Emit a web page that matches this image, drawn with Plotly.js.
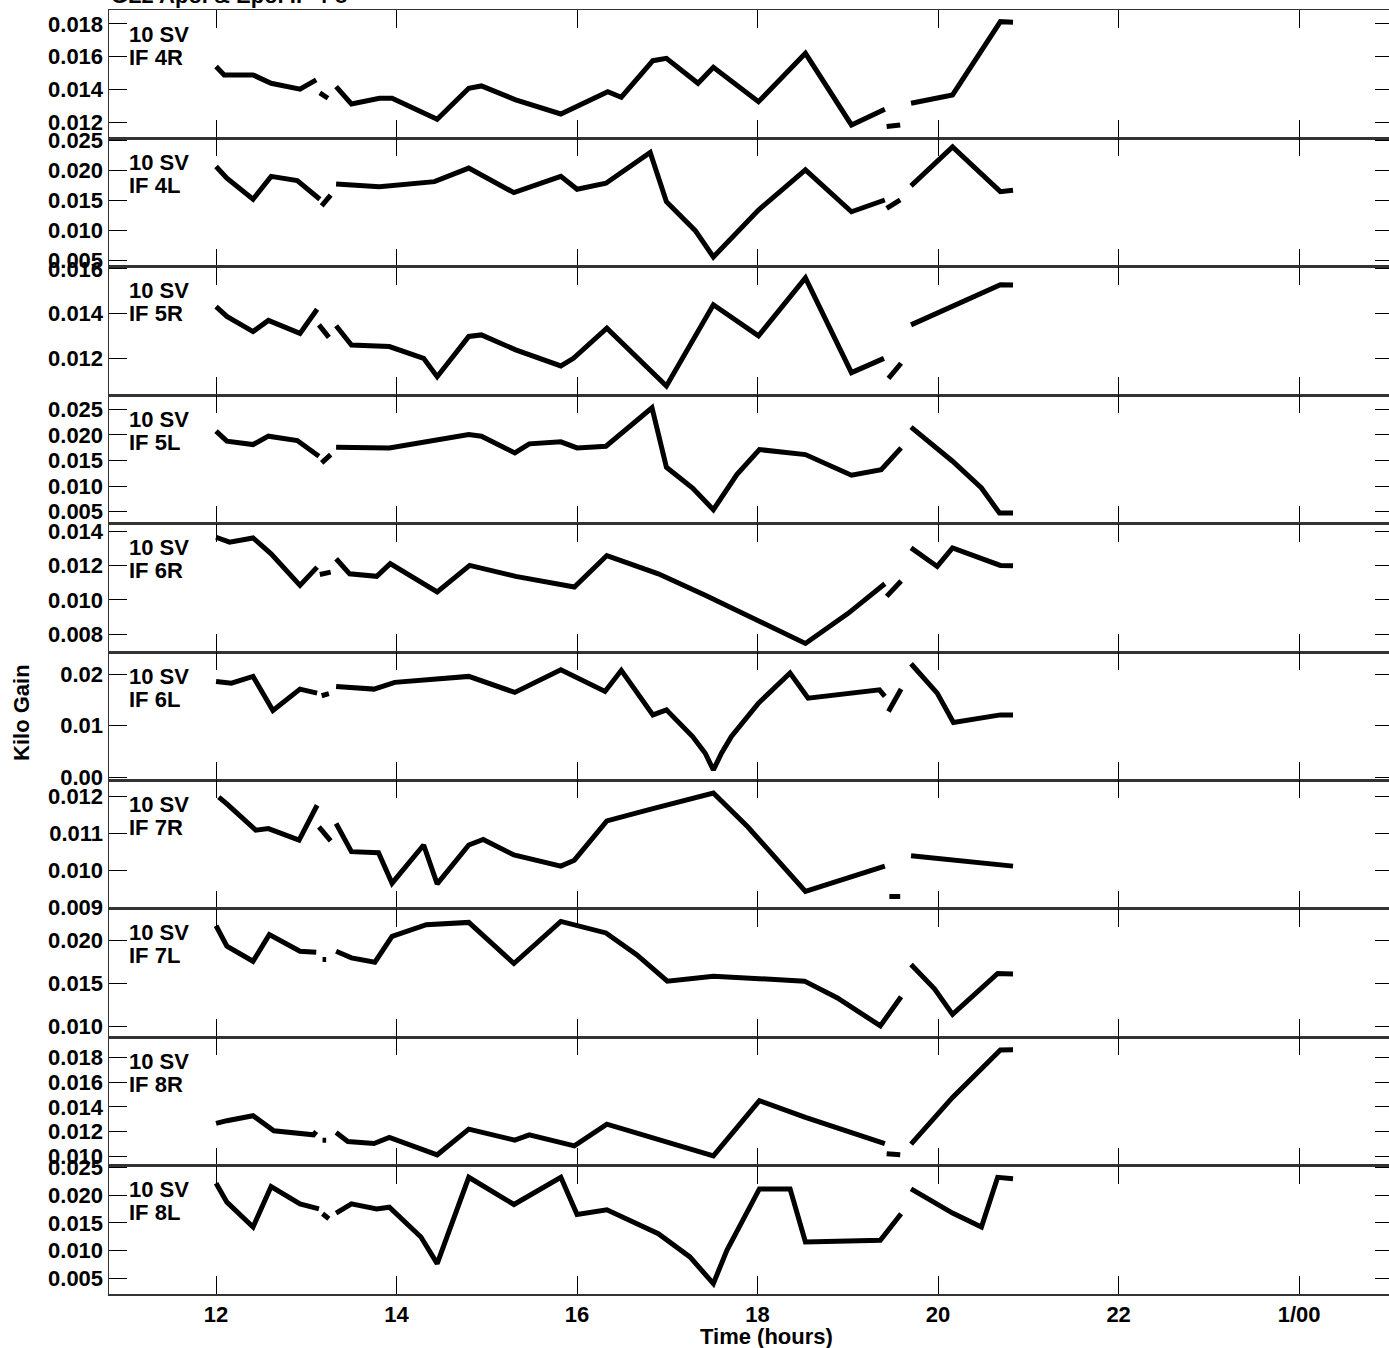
<!DOCTYPE html>
<html><head><meta charset="utf-8">
<script src="https://cdn.plot.ly/plotly-3.0.1.min.js"></script>
<style>html,body{margin:0;padding:0;overflow:hidden;background:#fff}#chart{width:1400px;height:1348px}</style>
</head><body><div id="chart"></div>
<script>
const plotTitle = 'GL2 Apol & Epol IF 4-8';
const sourceName = '10 SV';
const panelNames = ['IF 4R','IF 4L','IF 5R','IF 5L','IF 6R','IF 6L','IF 7R','IF 7L','IF 8R','IF 8L'];
const timeTickVals = [12,14,16,18,20,22,24];
const timeTickText = ['12','14','16','18','20','22','1/00'];

const t4R = [12.0,12.09,12.41,12.61,12.93,13.11,13.13,13.15,13.24,13.28,13.33,13.50,13.81,13.95,14.45,14.80,14.94,15.32,15.82,16.34,16.49,16.84,16.99,17.34,17.51,18.01,18.53,19.04,19.41,19.42,19.43,19.58,19.64,19.70,20.16,20.69,20.83];
const g4R = [0.0154,0.01489,0.01489,0.01438,0.01402,0.01459,null,0.0138,0.01347,null,0.01418,0.01312,0.01347,0.01347,0.01219,0.01408,0.01422,0.01337,0.01251,0.01387,0.01353,0.01576,0.0159,0.01438,0.01536,0.01326,0.01621,0.01184,0.0128,null,0.01174,0.01184,null,0.01316,0.01367,0.01814,0.0181];

const t4L = [12.0,12.12,12.41,12.61,12.90,13.15,13.16,13.17,13.27,13.30,13.33,13.81,14.42,14.80,15.30,15.82,16.0,16.32,16.81,16.99,17.31,17.51,18.01,18.53,19.04,19.41,19.42,19.43,19.58,19.64,19.70,20.16,20.69,20.83];
const g4L = [0.02063,0.0187,0.0152,0.019,0.0183,0.0152,null,0.0141,0.0159,null,0.01775,0.0173,0.01813,0.02037,0.0163,0.019,0.01687,0.01787,0.02297,0.0148,0.0100,0.00563,0.01342,0.02008,0.01313,0.01508,null,0.0137,0.0151,null,0.01742,0.02387,0.01647,0.0167];

const t5R = [12.0,12.12,12.41,12.58,12.93,13.12,13.13,13.14,13.25,13.29,13.33,13.50,13.92,14.30,14.45,14.80,14.94,15.32,15.82,15.96,16.33,16.99,17.51,18.01,18.53,19.04,19.40,19.42,19.45,19.59,19.64,19.70,20.69,20.83];
const g5R = [0.01431,0.01387,0.01319,0.01369,0.01311,0.01419,null,0.01349,0.01293,null,0.01345,0.01259,0.01252,0.01199,0.01117,0.01297,0.01304,0.01237,0.01165,0.01199,0.01334,0.01075,0.01439,0.0130,0.01559,0.01135,0.01199,null,0.01109,0.01177,null,0.01349,0.01529,0.01527];

const t5L = [12.0,12.12,12.41,12.58,12.90,13.14,13.15,13.17,13.27,13.30,13.33,13.92,14.80,14.94,15.31,15.47,15.82,16.0,16.32,16.83,16.99,17.28,17.51,17.77,18.02,18.53,19.04,19.37,19.59,19.64,19.70,20.16,20.48,20.68,20.83];
const g5L = [0.02073,0.01877,0.0181,0.01974,0.01888,0.01582,null,0.01451,0.01614,null,0.01759,0.01745,0.02006,0.01974,0.01647,0.01824,0.01863,0.01745,0.01778,0.02529,0.01367,0.00961,0.00536,0.01222,0.01712,0.01614,0.0121,0.0132,0.01745,null,0.02151,0.01484,0.00961,0.00471,0.0047];

const t6R = [12.0,12.15,12.41,12.61,12.93,13.12,13.13,13.15,13.27,13.30,13.33,13.48,13.78,13.93,14.45,14.81,15.32,15.97,16.33,16.90,17.42,18.01,18.53,19.00,19.41,19.42,19.43,19.59,19.64,19.70,19.99,20.16,20.69,20.83];
const g6R = [0.01367,0.01338,0.01363,0.0127,0.01085,0.01192,null,0.01149,0.01163,null,0.01241,0.01153,0.01138,0.01212,0.01047,0.01202,0.01138,0.01076,0.0126,0.01153,0.01027,0.00881,0.00745,0.0092,0.01095,null,0.01021,0.01111,null,0.01305,0.01196,0.01305,0.01202,0.012];

const t6L = [12.0,12.17,12.41,12.63,12.93,13.12,13.14,13.17,13.25,13.29,13.33,13.75,13.98,14.80,15.31,15.82,16.31,16.49,16.84,16.99,17.28,17.42,17.51,17.60,17.71,18.01,18.36,18.56,19.35,19.41,19.43,19.45,19.59,19.64,19.70,19.99,20.17,20.69,20.83];
const g6L = [0.01858,0.01825,0.01955,0.01295,0.01709,0.01631,null,0.0158,0.0162,null,0.01761,0.01709,0.01839,0.01955,0.01645,0.02083,0.01664,0.02072,0.0121,0.01307,0.00791,0.00467,0.00143,0.00467,0.00791,0.01437,0.0202,0.01534,0.01695,0.01567,null,0.01276,0.01709,null,0.0220,0.01631,0.01062,0.0121,0.0121];

const t7R = [12.03,12.12,12.44,12.58,12.92,13.12,13.13,13.14,13.27,13.30,13.33,13.50,13.80,13.95,14.30,14.45,14.80,14.96,15.30,15.82,15.97,16.33,16.84,17.51,17.89,18.24,18.53,19.41,19.43,19.46,19.58,19.64,19.70,20.83];
const g7R = [0.01198,0.0118,0.01109,0.01113,0.01082,0.01176,null,0.01118,0.0108,null,0.01127,0.01051,0.01048,0.00966,0.01069,0.00964,0.01069,0.01084,0.01042,0.01012,0.01028,0.01134,0.01167,0.01209,0.01118,0.01024,0.00944,0.01012,null,0.0093,0.0093,null,0.0104,0.01012];

const t7L = [12.0,12.12,12.41,12.59,12.93,13.11,13.15,13.18,13.22,13.28,13.33,13.50,13.76,13.95,14.33,14.80,15.30,15.82,16.32,16.66,17.00,17.51,18.52,18.88,19.36,19.59,19.64,19.70,19.96,20.16,20.66,20.83];
const g7L = [0.02174,0.01934,0.01759,0.0207,0.01876,0.01864,null,0.0178,0.0178,null,0.01876,0.01799,0.01748,0.0205,0.02186,0.02213,0.01733,0.02225,0.0209,0.01837,0.01527,0.01585,0.01527,0.01334,0.01004,0.01345,null,0.01721,0.01438,0.01139,0.01616,0.0161];

const t8R = [12.0,12.12,12.41,12.64,13.08,13.11,13.15,13.18,13.22,13.28,13.33,13.46,13.75,13.92,14.45,14.80,15.31,15.47,15.97,16.33,17.51,18.02,18.53,19.41,19.42,19.43,19.58,19.64,19.70,20.16,20.69,20.83];
const g8R = [0.01267,0.01289,0.01329,0.01208,0.01175,0.01202,null,0.01132,0.01132,null,0.01194,0.01121,0.01105,0.01154,0.01014,0.01221,0.01132,0.01175,0.01086,0.01261,0.01006,0.0145,0.01315,0.01105,null,0.01022,0.01014,null,0.011,0.01477,0.01859,0.0186];

const t8L = [12.0,12.12,12.41,12.61,12.93,13.14,13.16,13.18,13.25,13.29,13.33,13.50,13.78,13.92,14.27,14.45,14.80,15.30,15.82,16.0,16.33,16.90,17.25,17.51,17.66,18.02,18.36,18.53,19.36,19.59,19.64,19.70,20.16,20.48,20.66,20.83];
const g8L = [0.02216,0.01874,0.01423,0.02157,0.01843,0.01753,null,0.01663,0.01573,null,0.01676,0.01843,0.01753,0.01784,0.01243,0.00762,0.02324,0.01832,0.02324,0.01652,0.01735,0.01303,0.00883,0.004,0.01004,0.02114,0.02114,0.01153,0.01184,0.01663,null,0.02114,0.01676,0.01423,0.02324,0.023];

const yTickVals = [
  [0.012,0.014,0.016,0.018],
  [0.005,0.010,0.015,0.020,0.025],
  [0.012,0.014,0.016],
  [0.005,0.010,0.015,0.020,0.025],
  [0.008,0.010,0.012,0.014],
  [0.00,0.01,0.02],
  [0.009,0.010,0.011,0.012],
  [0.010,0.015,0.020],
  [0.010,0.012,0.014,0.016,0.018],
  [0.005,0.010,0.015,0.020,0.025]
];

// ---- presentation ----
const series = [[t4R,g4R],[t4L,g4L],[t5R,g5R],[t5L,g5L],[t6R,g6R],[t6L,g6L],[t7R,g7R],[t7L,g7L],[t8R,g8R],[t8L,g8L]];
const yRanges = [[0.01102,0.01885],[0.0040,0.0253],[0.01034,0.01609],[0.00265,0.02775],[0.00695,0.01447],[-0.00058,0.02427],[0.00897,0.01243],[0.00872,0.02372],[0.00927,0.01962],[0.00212,0.02536]];
const yFormats = ['.3f','.3f','.3f','.3f','.3f','.2f','.3f','.3f','.3f','.3f'];
const FONT = 'Liberation Sans, Arial, Helvetica, sans-serif';
const tickFont = {family: FONT, size: 22, color: '#000', weight: 'bold'};
const N = series.length;

const traces = [];
const layout = {
  width: 1400, height: 1348,
  margin: {l: 109, r: 7, t: 10, b: 54},
  paper_bgcolor: '#fff', plot_bgcolor: '#fff',
  showlegend: false,
  annotations: []
};
for (let i = 0; i < N; i++) {
  const sfx = i === 0 ? '' : String(i + 1);
  traces.push({
    x: series[i][0], y: series[i][1],
    xaxis: 'x' + sfx, yaxis: 'y' + sfx,
    type: 'scatter', mode: 'lines', connectgaps: false,
    line: {color: '#000', width: 5}, hoverinfo: 'skip'
  });
  layout['xaxis' + sfx] = {
    anchor: 'y' + sfx, domain: [0, 1], range: [10.814, 25.04],
    tickvals: timeTickVals, ticktext: timeTickText,
    ticks: 'inside', ticklen: 18, tickwidth: 1, tickcolor: '#000',
    showline: true, linecolor: '#333', linewidth: 1.5, mirror: 'ticks',
    showgrid: false, zeroline: false,
    showticklabels: i === N - 1, tickfont: tickFont
  };
  layout['yaxis' + sfx] = {
    anchor: 'x' + sfx, domain: [1 - (i + 1) / N, 1 - i / N], range: yRanges[i],
    tickvals: yTickVals[i], tickformat: yFormats[i],
    ticks: 'inside', ticklen: 18, tickwidth: 1, tickcolor: '#000',
    showline: true, linecolor: '#333', linewidth: 1.5, mirror: 'ticks',
    showgrid: false, zeroline: false, tickfont: tickFont
  };
  layout.annotations.push({
    xref: 'paper', yref: 'y' + sfx + ' domain', x: 0.014, y: 1, xanchor: 'left', yanchor: 'middle',
    yshift: -24, showarrow: false, text: sourceName, font: tickFont
  });
  layout.annotations.push({
    xref: 'paper', yref: 'y' + sfx + ' domain', x: 0.014, y: 1, xanchor: 'left', yanchor: 'middle',
    yshift: -47, showarrow: false, text: panelNames[i], font: tickFont
  });
}
layout.annotations.push({
  xref: 'paper', yref: 'paper', x: 0.5117, y: 0, xanchor: 'center', yanchor: 'middle', yshift: -42,
  showarrow: false, text: 'Time (hours)', font: tickFont
});
layout.annotations.push({
  xref: 'paper', yref: 'paper', x: -0.0678, y: 0.4533, xanchor: 'center', yanchor: 'middle',
  textangle: -90, showarrow: false, text: 'Kilo Gain', font: tickFont
});
layout.annotations.push({
  xref: 'paper', yref: 'paper', x: 0.0, y: 1, xanchor: 'left', yanchor: 'bottom', yshift: 0,
  showarrow: false, text: plotTitle, font: tickFont
});

Plotly.newPlot('chart', traces, layout, {displayModeBar: false, staticPlot: true});
</script>
</body></html>
